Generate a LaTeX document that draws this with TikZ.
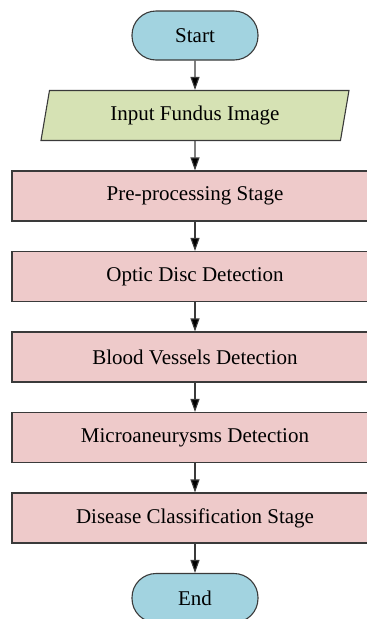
\documentclass[tikz,border=0pt]{standalone}
\usepackage{fontspec}
\setmainfont{Liberation Serif}
\usetikzlibrary{positioning,shapes.geometric,arrows.meta}

\definecolor{termblue}{HTML}{A2D3E0}
\definecolor{iogreen}{HTML}{D6E2B4}
\definecolor{stagepink}{HTML}{EECACA}
\definecolor{edgegray}{HTML}{3A3A3A}

\begin{document}
\begin{tikzpicture}[
                    >={Triangle[length=13pt,width=9pt]},
                    node distance=29.4pt,
                    line width=1.1pt,
                    font=\fontsize{21}{24}\selectfont,
                    terminal/.style={draw=edgegray, fill=termblue, rounded corners=24pt,
                                     minimum width=126pt, minimum height=49pt, inner sep=0pt},
                    io/.style={draw=edgegray, fill=iogreen, trapezium,
                               trapezium left angle=66, trapezium right angle=114,
                               trapezium stretches body, minimum width=308pt,
                               minimum height=50pt, inner sep=0pt},
                    stage/.style={draw=edgegray, fill=stagepink,
                                  minimum width=366pt, minimum height=50pt, inner sep=0pt}
                ]
                \useasboundingbox (0,0) rectangle (367pt,-619pt);
                \clip (0,0) rectangle (367pt,-619pt);

                \node (start) [terminal] at (195pt,-35.5pt) {Start} ;
                \node (input) [io, below=of start] {Input Fundus Image} ;
                \node (pre) [stage, below=of input] {Pre-processing Stage} ;
                \node (optic) [stage, below=of pre] {Optic Disc Detection} ;
                \node (vessel) [stage, below=of optic] {Blood Vessels Detection} ;
                \node (micro) [stage, below=of vessel] {Microaneurysms Detection} ;
                \node (classify) [stage, below=of micro] {Disease Classification Stage} ;
                \node (stop) [terminal, below=of classify] {End} ;

                \path[->, draw=edgegray]
                (start) edge (input)
                (input) edge (pre)
                (pre) edge (optic)
                (optic) edge (vessel)
                (vessel) edge (micro)
                (micro) edge (classify)
                (classify) edge (stop)
                ;
            \end{tikzpicture}
\end{document}
